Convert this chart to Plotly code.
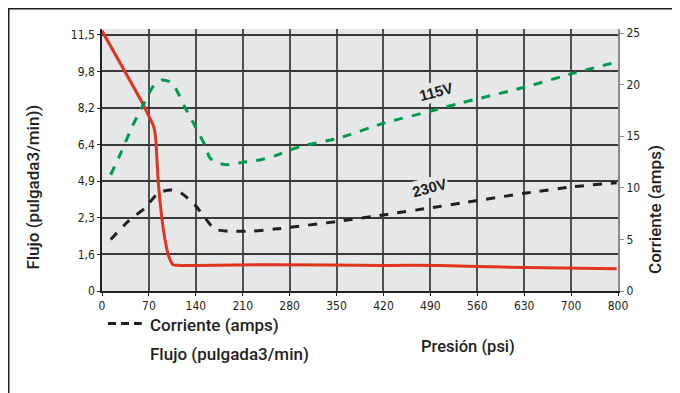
import plotly.graph_objects as go

# x positions in chart units (last grid step is labelled 800)
x_ticks = [0, 70, 140, 210, 280, 350, 420, 490, 560, 630, 700, 770]
x_labels = ["0", "70", "140", "210", "280", "350", "420", "490", "560", "630", "700", "800"]
flow_labels = ["0", "1,6", "2,3", "4,9", "6,4", "8,2", "9,8", "11,5"]

# Flujo (left axis, one unit per labelled gridline)
flow_x = [0, 59, 71, 77, 80, 82, 84, 89, 94, 99.5, 106, 116, 138, 258, 422, 504, 562, 633, 768]
flow_y = [7.11, 5.18, 4.74, 4.5, 4.2, 3.6, 2.96, 2.04, 1.41, 0.95, 0.72, 0.70, 0.70,
          0.72, 0.70, 0.70, 0.67, 0.64, 0.61]

# Corriente 115V (right axis, amps)
amp115_x = [13, 29, 44, 64, 76, 89, 101, 108.5, 123, 138, 153, 161, 173, 188, 213, 235,
            258, 295, 352, 422, 494, 534, 633, 703, 768]
amp115_y = [11.27, 13.5, 15.8, 18.36, 19.8, 20.45, 20.3, 19.8, 17.9, 16.1, 14.2, 12.9, 12.4,
            12.25, 12.5, 12.7, 13.1, 14.0, 14.8, 16.3, 17.5, 18.2, 19.8, 21.1, 22.2]

# Corriente 230V (right axis, amps)
amp230_x = [13, 39, 64, 84, 103, 118, 138, 156, 168, 188, 223, 258, 352, 422, 494, 534,
            633, 703, 768]
amp230_y = [5.0, 6.75, 8.05, 9.5, 9.8, 9.5, 8.4, 6.9, 6.0, 5.8, 5.8, 6.0, 6.75, 7.4, 8.1,
            8.5, 9.5, 10.1, 10.5]

dark = "#231f20"
font_family = "Liberation Sans Narrow, DejaVu Sans Condensed, Liberation Sans, Arial"
title_family = "Roboto, Liberation Sans, Arial"

fig = go.Figure()

fig.add_trace(go.Scatter(x=amp115_x, y=amp115_y, yaxis="y2", mode="lines",
                         line=dict(color="#009a4e", width=3, dash="dash", shape="spline", smoothing=0.6),
                         showlegend=False))
fig.add_trace(go.Scatter(x=amp230_x, y=amp230_y, yaxis="y2", mode="lines",
                         line=dict(color=dark, width=3, dash="dash", shape="spline", smoothing=0.6),
                         showlegend=False))
fig.add_trace(go.Scatter(x=flow_x, y=flow_y, mode="lines",
                         line=dict(color="#e0341f", width=3, shape="spline", smoothing=0.5),
                         showlegend=False))

# the page body adds an 8px offset, so margins are shifted by 8
fig.update_layout(
    width=680, height=393,
    margin=dict(l=94, r=70, t=21, b=109.5),
    paper_bgcolor="white",
    plot_bgcolor="#e6e7e8",
    font=dict(family=font_family, size=12, color=dark),
    xaxis=dict(range=[0, 770], tickvals=x_ticks, ticktext=x_labels,
               showgrid=True, gridcolor="#505050", gridwidth=1.5,
               showline=True, linecolor=dark, linewidth=1.5,
               ticks="outside", ticklen=3, tickcolor=dark, zeroline=False,
               tickfont=dict(size=12)),
    yaxis=dict(range=[0, 7.16], tickvals=list(range(8)), ticktext=flow_labels,
               showgrid=True, gridcolor="#3a3a3a", gridwidth=1.5,
               showline=True, linecolor=dark, linewidth=1.5,
               ticks="outside", ticklen=3, tickcolor=dark, zeroline=False,
               tickfont=dict(size=12)),
    yaxis2=dict(range=[0, 25.4], tickvals=[0, 5, 10, 15, 20, 25], overlaying="y", side="right",
                showgrid=False, showline=True, linecolor="#8a8a8a", linewidth=2,
                ticks="outside", ticklen=4, tickcolor="#8a8a8a", zeroline=False,
                tickfont=dict(size=12)),
)

# outer frame (runs off the right and bottom edges like the original)
fig.add_shape(type="rect", xref="paper", yref="paper",
              x0=-0.1807, x1=1.3, y0=-0.6, y1=1.077,
              line=dict(color=dark, width=1.5), layer="below")

# legend dash for Corriente
fig.add_shape(type="line", xref="paper", yref="paper",
              x0=0.0116, x1=0.077, y0=-0.124, y1=-0.124,
              line=dict(color=dark, width=3, dash="8px,5px"))

tfont = dict(family=title_family, size=17, color=dark, weight=500)
fig.add_annotation(text="Corriente (amps)", xref="paper", yref="paper",
                   x=0.089, y=-0.128, xanchor="left", yanchor="middle", showarrow=False, font=tfont)
fig.add_annotation(text="Flujo (pulgada3/min)", xref="paper", yref="paper",
                   x=0.089, y=-0.242, xanchor="left", yanchor="middle", showarrow=False, font=tfont)
fig.add_annotation(text="Presión (psi)", xref="paper", yref="paper",
                   x=0.709, y=-0.211, xanchor="center", yanchor="middle", showarrow=False,
                   font=dict(tfont, size=16.5))
fig.add_annotation(text="Flujo (pulgada3/min))", xref="paper", yref="paper",
                   x=-0.134, y=0.398, xanchor="center", yanchor="middle", textangle=-90,
                   showarrow=False, font=tfont)
fig.add_annotation(text="Corriente (amps)", xref="paper", yref="paper",
                   x=1.072, y=0.310, xanchor="center", yanchor="middle", textangle=-90,
                   showarrow=False, font=tfont)

lfont = dict(family="Liberation Sans, Arial", size=15, color=dark)
fig.add_annotation(text="<b>115V</b>", x=499, y=19.3, yref="y2", textangle=-15, showarrow=False,
                   font=lfont, bgcolor="#e6e7e8")
fig.add_annotation(text="<b>230V</b>", x=489, y=10.0, yref="y2", textangle=-15, showarrow=False,
                   font=lfont, bgcolor="#e6e7e8")

fig.write_html("out.html")
